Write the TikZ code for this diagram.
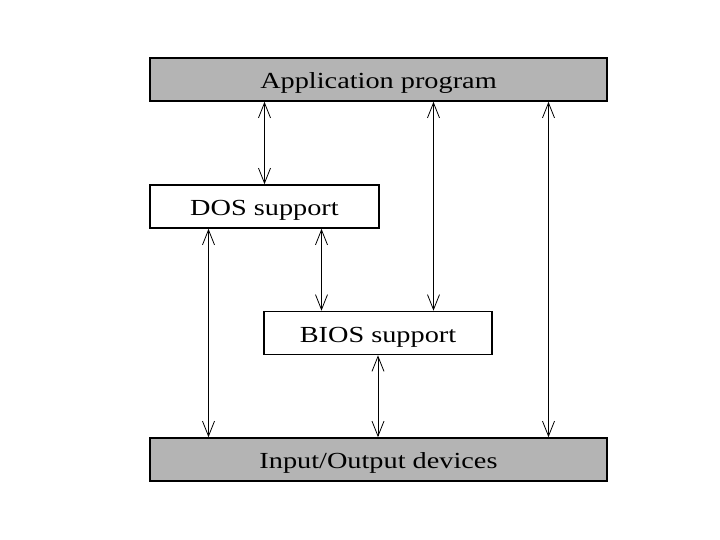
\documentclass[tikz,border=0pt]{standalone}
\usepackage{fontspec}
\usepackage{graphicx}
\setmainfont{Liberation Serif}
\usetikzlibrary{arrows.meta}
\definecolor{boxgray}{RGB}{180,180,180}
\newcommand{\lbl}[1]{\scalebox{1.23}[1]{\fontsize{23}{23}\selectfont #1}}
\tikzset{
  blk/.style={draw=black, line width=1.6pt, rectangle, inner sep=0pt, text height=18pt, text depth=0pt},
  graybox/.style={blk, fill=boxgray},
  whitebox/.style={blk, fill=white},
  dar/.style={line width=0.8pt, {Straight Barb[length=15pt,width=12pt]}-{Straight Barb[length=15pt,width=12pt]}}
}
\begin{document}
\begin{tikzpicture}[x=1pt,y=-1pt]
\useasboundingbox (0,0) rectangle (720,540);
\node[graybox, minimum width=457pt, minimum height=43pt] (app) at (378.5,79.5) {\lbl{Application program}};
\node[whitebox, minimum width=229pt, minimum height=43pt] (dos) at (264.5,206.5) {\lbl{DOS support}};
\node[whitebox, minimum width=228pt, minimum height=43pt] (bios) at (378,333) {\lbl{BIOS support}};
\node[graybox, minimum width=457pt, minimum height=43pt] (io) at (378.5,459.5) {\lbl{Input/Output devices}};
\draw[dar] ([xshift=-114pt]app.south) -- ([xshift=0pt]dos.north);
\draw[dar] ([xshift=55pt]app.south) -- ([xshift=55.5pt]bios.north);
\draw[dar] ([xshift=170pt]app.south) -- ([xshift=170pt]io.north);
\draw[dar] ([xshift=-56pt]dos.south) -- ([xshift=-170pt]io.north);
\draw[dar] ([xshift=57pt]dos.south) -- ([xshift=-56.5pt]bios.north);
\draw[dar] (bios.south) -- ([xshift=-0.5pt]io.north);
\end{tikzpicture}
\end{document}
